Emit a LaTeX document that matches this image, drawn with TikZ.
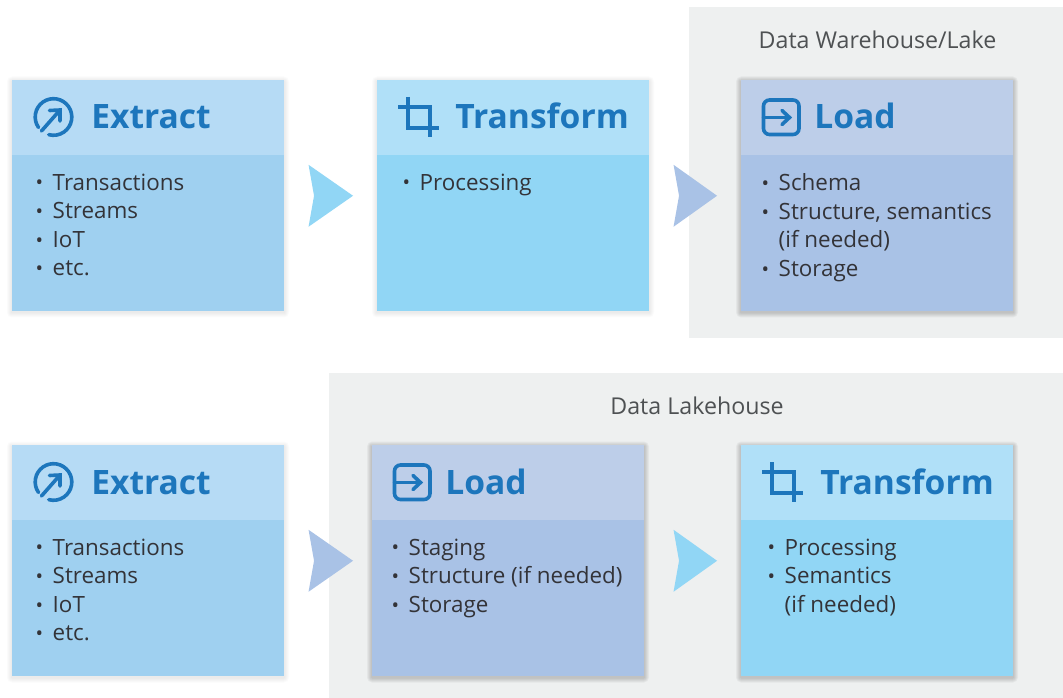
\documentclass[tikz,border=0pt]{standalone}
\usepackage{fontspec}
\setmainfont{Open Sans}
\usetikzlibrary{calc}
\definecolor{panelgray}{HTML}{EEF0F0}
\definecolor{titleblue}{HTML}{1D76BC}
\definecolor{bodyink}{HTML}{333338}
\definecolor{labelink}{HTML}{4E5153}
\definecolor{exhead}{HTML}{B6DBF5}
\definecolor{exbody}{HTML}{9FD0F0}
\definecolor{trhead}{HTML}{B0E0F8}
\definecolor{trbody}{HTML}{91D6F5}
\definecolor{lohead}{HTML}{BDCEE9}
\definecolor{lobody}{HTML}{A9C2E6}
\newcommand{\bul}{\makebox[11.6pt][l]{\hspace*{-1.2pt}\raisebox{0.2pt}{\fontsize{15}{15}\selectfont •}}}
\newcommand{\ind}{\hspace*{11.6pt}}
% #1 name, #2 left x, #3 top y, #4 head colour, #5 body colour, #6 shadow opacity
\newcommand{\cardbase}[6]{%
  \foreach \g in {1,2,...,5}{
    \fill[black,opacity=#6,rounded corners=\g*0.75pt] (#2-\g,#3-\g+1.5) rectangle (#2+272+\g,#3+231+\g+1.5);
  }
  \node[fill=#5,minimum width=204pt,minimum height=173.25pt,anchor=north west,inner sep=0pt] (#1) at (#2,#3) {};
  \node[fill=#4,minimum width=204pt,minimum height=56.25pt,anchor=north west,inner sep=0pt] (#1head) at (#2,#3) {};
}
\newcommand{\extracticon}[2]{%
  \begin{scope}[shift={(#1,#2)},icon]
    \draw ($(41.5,37)+(145:18.3)$) arc[start angle=145,end angle=465,radius=18.3];
    \draw (29.5,51) -- (48,30);
    \draw (37.5,30.5) -- (48,30) -- (48,41);
  \end{scope}}
\newcommand{\transformicon}[2]{%
  \begin{scope}[shift={(#1,#2)},icon,line cap=butt]
    \draw (31,17) -- (31,48) -- (62,48);
    \draw (21,27) -- (53,27) -- (53,57);
  \end{scope}}
\newcommand{\loadicon}[2]{%
  \begin{scope}[shift={(#1,#2)},icon]
    \draw[rounded corners=4.5pt] (22.5,20) rectangle (58,54.5);
    \draw (22.5,37.5) -- (48,37.5);
    \draw (41,30.5) -- (48.5,37.5) -- (41,44.5);
  \end{scope}}
\tikzset{
  x=0.75pt,y=-0.75pt,
  panel/.style={fill=panelgray,draw=none},
  icon/.style={draw=titleblue,line width=2.7pt,line cap=round,line join=miter},
  cardtitle/.style={font=\fontsize{25.2}{30}\selectfont\bfseries,text=titleblue,anchor=base west,inner sep=0pt},
  items/.style={font=\fontsize{16.8}{21.4}\selectfont,text=bodyink,anchor=north west,inner sep=0pt,align=left},
  panellabel/.style={font=\fontsize{17.4}{20}\selectfont,text=labelink,anchor=base,inner sep=0pt},
}
\begin{document}
\begin{tikzpicture}
\useasboundingbox (0,0) rectangle (1063,698);
\fill[panel] (689,7) rectangle (1063,338);
\fill[panel] (329,373) rectangle (1063,698);
\node[panellabel] (lab1) at (877.5,49) {Data Warehouse/Lake};
\node[panellabel] (lab2) at (697,414) {Data Lakehouse};

% top row
\cardbase{ea}{12}{80}{exhead}{exbody}{0.016}
\cardbase{ta}{377}{80}{trhead}{trbody}{0.016}
\cardbase{la}{741}{80}{lohead}{lobody}{0.04}
% bottom row
\cardbase{eb}{12}{445}{exhead}{exbody}{0.016}
\cardbase{lb}{372}{445}{lohead}{lobody}{0.04}
\cardbase{tb}{741}{445}{trhead}{trbody}{0.04}

\extracticon{12}{80}
\transformicon{377}{80}
\loadicon{741}{80}
\extracticon{12}{445}
\loadicon{372}{445}
\transformicon{741}{445}

\node[cardtitle] (eat) at (91,129) {Extract};
\node[cardtitle] (tat) at (455,129) {Transform};
\node[cardtitle] (lat) at (814,129) {Load};
\node[cardtitle] (ebt) at (91,494) {Extract};
\node[cardtitle] (lbt) at (445,494) {Load};
\node[cardtitle] (tbt) at (820,494) {Transform};

\node[items] (eai) at (37,173.5) {\bul Transactions\\\bul Streams\\\bul IoT\\\bul etc.};
\node[items] (tai) at (404,173.5) {\bul Processing};
\node[items] (lai) at (763,173.5) {\bul Schema\\\bul Structure, semantics\\\ind (if needed)\\\bul Storage};
\node[items] (ebi) at (37,538.5) {\bul Transactions\\\bul Streams\\\bul IoT\\\bul etc.};
\node[items] (lbi) at (393,538.5) {\bul Staging\\\bul Structure (if needed)\\\bul Storage};
\node[items] (tbi) at (769,538.5) {\bul Processing\\\bul Semantics\\\ind (if needed)};

% chevrons between cards
\coordinate (c1) at ($(ea.east)+(24,0)$);
\coordinate (c2) at ($(ta.east)+(24,0)$);
\coordinate (c3) at ($(eb.east)+(24,0)$);
\coordinate (c4) at ($(lb.east)+(29,0)$);
\fill[trbody] (c1) ++(0,-31) -- ++(44.5,31) -- ++(-44.5,31) -- ++(5.5,-31) -- cycle;
\fill[lobody] (c2) ++(0,-31) -- ++(43.5,31) -- ++(-43.5,31) -- ++(5.5,-31) -- cycle;
\fill[lobody] (c3) ++(0,-31) -- ++(44.5,31) -- ++(-44.5,31) -- ++(5.5,-31) -- cycle;
\fill[trbody] (c4) ++(0,-31) -- ++(43.5,31) -- ++(-43.5,31) -- ++(5.5,-31) -- cycle;
\end{tikzpicture}
\end{document}
